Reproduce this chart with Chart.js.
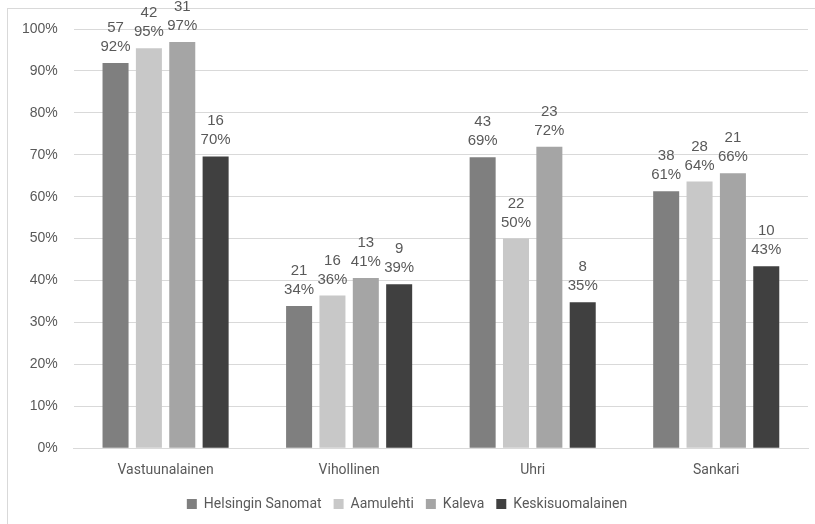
<!DOCTYPE html>
<html>
<head>
<meta charset="utf-8">
<script src="https://cdn.jsdelivr.net/npm/chart.js@4.4.1/dist/chart.umd.min.js"></script>
<style>
  html, body { margin: 0; padding: 0; background: #fff; }
  #wrap { position: relative; width: 815px; height: 524px; overflow: hidden; }
  #frame { position: absolute; left: 7px; top: 8px; width: 820px; height: 530px;
           border-top: 1px solid #d9d9d9; border-left: 1px solid #d9d9d9; }
  canvas { position: absolute; left: 0; top: 0; }
</style>
</head>
<body>
<div id="wrap">
  <div id="frame"></div>
  <canvas id="chart" width="815" height="524"></canvas>
</div>
<script>
// kategoriat ja sarjat
const categories = ['Vastuunalainen', 'Vihollinen', 'Uhri', 'Sankari'];
const seriesNames = ['Helsingin Sanomat', 'Aamulehti', 'Kaleva', 'Keskisuomalainen'];
const seriesColors = ['#7f7f7f', '#c8c8c8', '#a5a5a5', '#404040'];

// osuudet (%) ja lukumäärät kuvasta luettuna
const hsPct = [91.9, 33.9, 69.4, 61.3];
const alPct = [95.4, 36.4, 50.0, 63.6];
const kalevaPct = [96.9, 40.6, 71.9, 65.6];
const ksPct = [69.6, 39.1, 34.8, 43.4];

const hsCount = [57, 21, 43, 38];
const alCount = [42, 16, 22, 28];
const kalevaCount = [31, 13, 23, 21];
const ksCount = [16, 9, 8, 10];

const yTicks = [0, 10, 20, 30, 40, 50, 60, 70, 80, 90, 100];

const pctSeries = [hsPct, alPct, kalevaPct, ksPct];
const countSeries = [hsCount, alCount, kalevaCount, ksCount];

const narrowFont = "Roboto, 'Liberation Sans', sans-serif";
const mainFont = "'Liberation Sans', Roboto, sans-serif";

// tekstit pylväiden yläpuolelle (lukumäärä + prosentti)
const barLabels = {
    id: 'barLabels',
    afterDatasetsDraw(chart) {
        const ctx = chart.ctx;
        ctx.save();
        ctx.fillStyle = '#595959';
        ctx.font = '15px ' + mainFont;
        ctx.textAlign = 'center';
        ctx.textBaseline = 'alphabetic';
        chart.data.datasets.forEach((ds, di) => {
            const meta = chart.getDatasetMeta(di);
            meta.data.forEach((bar, i) => {
                const pct = Math.round(ds.data[i]) + '%';
                const cnt = String(countSeries[di][i]);
                ctx.fillText(pct, bar.x, bar.y - 12);
                ctx.fillText(cnt, bar.x, bar.y - 31);
            });
        });
        ctx.restore();
    }
};

const chartData = {
    labels: categories,
    datasets: seriesNames.map((name, i) => ({
        label: name,
        data: pctSeries[i],
        backgroundColor: seriesColors[i],
        borderWidth: 0,
        barPercentage: 0.78,
        categoryPercentage: 0.727
    }))
};

new Chart(document.getElementById('chart'), {
    type: 'bar',
    data: chartData,
    plugins: [barLabels],
    options: {
        responsive: false,
        animation: false,
        devicePixelRatio: 1,
        layout: { padding: { top: 29, right: 7, left: 6, bottom: 3 } },
        plugins: {
            legend: {
                position: 'bottom',
                labels: {
                    boxWidth: 10,
                    boxHeight: 10,
                    color: '#595959',
                    font: { size: 14, family: narrowFont },
                    padding: 12
                }
            },
            tooltip: { enabled: false }
        },
        scales: {
            x: {
                grid: { display: false },
                border: { color: '#d9d9d9', width: 1 },
                ticks: {
                    color: '#595959',
                    font: { size: 14, family: narrowFont },
                    padding: 6
                }
            },
            y: {
                min: 0,
                max: 100,
                afterBuildTicks(axis) {
                    axis.ticks = yTicks.map(v => ({ value: v }));
                },
                grid: { color: '#d9d9d9', drawTicks: false },
                border: { display: false },
                ticks: {
                    color: '#595959',
                    font: { size: 14, family: mainFont },
                    padding: 16,
                    callback: function(value) {
                        return value + '%';
                    }
                }
            }
        }
    }
});
</script>
</body>
</html>
